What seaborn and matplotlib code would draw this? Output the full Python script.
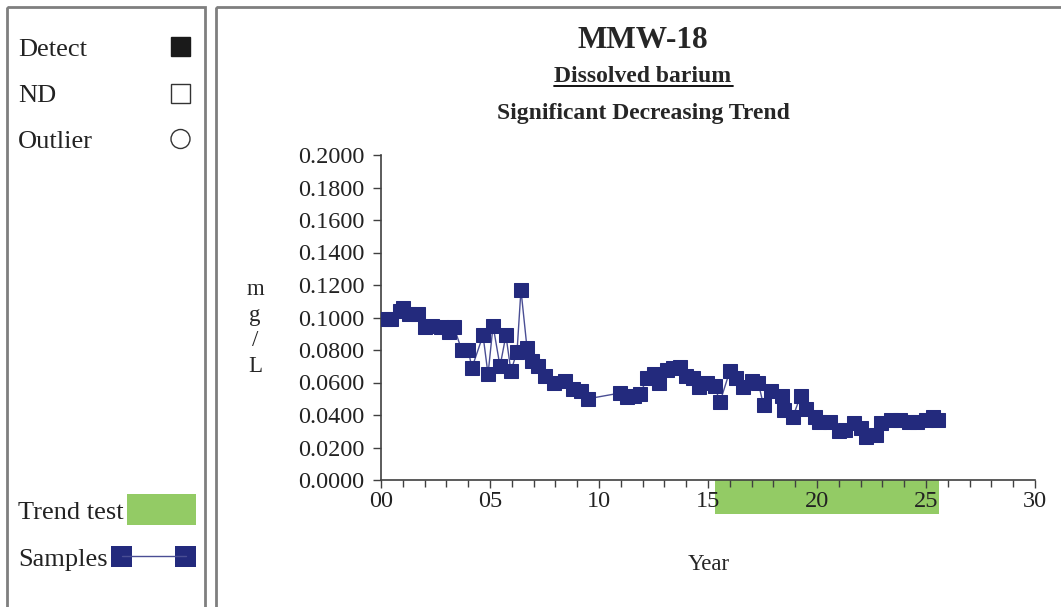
import matplotlib
matplotlib.use("Agg")
import matplotlib.pyplot as plt
import matplotlib.transforms as mtransforms
from matplotlib.patches import Rectangle, Circle
import seaborn as sns

# sample data
years = [0.2, 0.45, 0.85, 1.0, 1.3, 1.7, 2.0, 2.35, 2.75, 3.1, 3.35, 3.7, 4.0,
         4.17, 4.68, 4.91, 5.14, 5.46, 5.73, 5.96, 6.24, 6.42, 6.7, 6.93, 7.2,
         7.52, 7.94, 8.44, 8.8, 9.17, 9.5,
         10.96, 11.3, 11.6, 11.9, 12.2, 12.5, 12.75, 13.1, 13.4, 13.7, 14.0,
         14.3, 14.6, 14.95, 15.3, 15.55, 16.0, 16.3, 16.6, 17.0, 17.3, 17.55,
         17.9, 18.4, 18.5, 18.9, 19.25, 19.5, 19.9, 20.1, 20.6, 21.0, 21.3,
         21.7, 22.0, 22.25, 22.7, 22.95, 23.4, 23.8, 24.2, 24.6, 25.0, 25.3, 25.55]
barium = [0.099, 0.099, 0.104, 0.106, 0.102, 0.102, 0.094, 0.095, 0.094, 0.091,
          0.094, 0.080, 0.080, 0.069, 0.089, 0.065, 0.095, 0.070, 0.089, 0.067,
          0.079, 0.117, 0.081, 0.073, 0.070, 0.064, 0.060, 0.061, 0.056, 0.055,
          0.050,
          0.0535, 0.051, 0.052, 0.053, 0.063, 0.065, 0.060, 0.068, 0.069, 0.0695,
          0.064, 0.063, 0.057, 0.060, 0.058, 0.048, 0.067, 0.063, 0.057, 0.061,
          0.060, 0.046, 0.055, 0.052, 0.043, 0.039, 0.052, 0.044, 0.039, 0.036,
          0.036, 0.030, 0.031, 0.035, 0.032, 0.0265, 0.028, 0.035, 0.037, 0.037,
          0.036, 0.036, 0.037, 0.039, 0.037]
trend_span = [15.3, 25.6]
x_ticks = [0, 5, 10, 15, 20, 25, 30]
x_tick_labels = ["00", "05", "10", "15", "20", "25", "30"]
y_ticks = [0.0, 0.02, 0.04, 0.06, 0.08, 0.10, 0.12, 0.14, 0.16, 0.18, 0.20]

W, H = 1061, 607
navy = "#232A7D"
line_col = "#4A4E94"
green = "#93CB65"
serif = ["Liberation Serif", "DejaVu Serif"]

sns.set_theme(style="ticks")
plt.rcParams["font.family"] = serif

fig = plt.figure(figsize=(W / 100, H / 100), dpi=100)

# overlay in pixel coordinates for frames, legend and titles
bg = fig.add_axes([0, 0, 1, 1])
bg.set_xlim(0, W)
bg.set_ylim(H, 0)
bg.axis("off")
bg.add_patch(Rectangle((7, 7), 198, 620, fill=False, ec="#7f7f7f", lw=2))
bg.add_patch(Rectangle((216, 7), 870, 620, fill=False, ec="#7f7f7f", lw=2))

leg_fs = 19
bg.text(18, 50, "Detect", fontsize=leg_fs, va="center", ha="left", color="#222222")
bg.text(18, 96, "ND", fontsize=leg_fs, va="center", ha="left", color="#222222")
bg.text(18, 142, "Outlier", fontsize=leg_fs, va="center", ha="left", color="#222222")
bg.add_patch(Rectangle((171, 37), 19, 19, fc="#1a1a1a", ec="#1a1a1a", lw=1))
bg.add_patch(Rectangle((171, 84), 19, 19, fc="white", ec="#333333", lw=1))
bg.add_patch(Circle((180.5, 139), 9.5, fc="white", ec="#333333", lw=1))

bg.text(18, 513, "Trend test", fontsize=leg_fs, va="center", ha="left", color="#222222")
bg.add_patch(Rectangle((127, 494), 69, 31, fc=green, ec="none"))
bg.text(18, 560, "Samples", fontsize=leg_fs, va="center", ha="left", color="#222222")
bg.plot([122, 186], [556, 556], color=line_col, lw=1)
bg.add_patch(Rectangle((111, 546), 21, 21, fc=navy, ec="none"))
bg.add_patch(Rectangle((175, 546), 21, 21, fc=navy, ec="none"))

bg.text(643, 41, "MMW-18", fontsize=22.5, fontweight="bold", ha="center", va="center")
bg.text(643, 76, "Dissolved barium", fontsize=17, fontweight="bold", ha="center", va="center")
bg.plot([554, 733], [86, 86], color="black", lw=1.3)
bg.text(643, 113, "Significant Decreasing Trend", fontsize=17, fontweight="bold",
        ha="center", va="center")
bg.text(255, 328, "m\ng\n/\nL", fontsize=16.5, ha="center", va="center", linespacing=1.3)
bg.text(709, 565, "Year", fontsize=16.5, ha="center", va="center")

# main chart
ax = fig.add_axes([381 / W, 1 - 480 / H, 654 / W, 325 / H])
ax.patch.set_alpha(0)
ax.set_axisbelow(False)
sns.lineplot(x=years, y=barium, sort=False, ax=ax, color=line_col, lw=1,
             marker="s", markersize=10.5, mfc=navy, mec=navy, zorder=3)
ax.set_xlim(0, 30)
ax.set_ylim(0, 0.2)
ax.set_xticks(x_ticks)
ax.set_xticklabels(x_tick_labels)
ax.set_xticks(range(0, 31), minor=True)
ax.set_yticks(y_ticks)
ax.set_yticklabels([f"{v:.4f}" for v in y_ticks])
for s in ["top", "right"]:
    ax.spines[s].set_visible(False)
for s in ["left", "bottom"]:
    ax.spines[s].set_color("#404040")
    ax.spines[s].set_linewidth(1.2)
ax.tick_params(bottom=True, left=True, top=False, right=False)
ax.tick_params(axis="both", which="major", direction="out", length=7, width=1,
               color="#404040", labelsize=17.5, pad=2, labelcolor="#222222")
ax.tick_params(axis="x", which="minor", bottom=True, direction="out", length=5, width=1,
               color="#404040")
ax.tick_params(axis="y", which="minor", left=False)
ax.tick_params(axis="x", which="major", length=6, pad=2)
ax.tick_params(axis="y", which="major", length=6, pad=6)
ax.grid(False)

# trend test bar below the x axis
trans = mtransforms.blended_transform_factory(ax.transData, ax.transAxes)
ax.add_patch(Rectangle((trend_span[0], -34 / 325), trend_span[1] - trend_span[0], 34 / 325,
                       transform=trans, fc=green, ec="none", clip_on=False, zorder=0.2))
ax.set_xlabel("")
ax.set_ylabel("")

fig.savefig("out.png", dpi=100)
